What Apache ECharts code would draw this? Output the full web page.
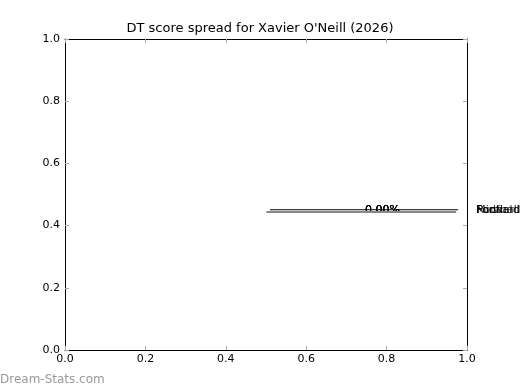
<!DOCTYPE html>
<html><head><meta charset="utf-8">
<script src="https://cdn.jsdelivr.net/npm/echarts@6/dist/echarts.min.js"></script>
<style>html,body{margin:0;padding:0;background:#fff}#c{width:520px;height:390px}</style>
</head><body><div id="c"></div>
<script>
const titleText = "DT score spread for Xavier O'Neill (2026)";
const xTicks = [0, 0.2, 0.4, 0.6, 0.8, 1.0];
const yTicks = [0, 0.2, 0.4, 0.6, 0.8, 1.0];
const blackLine = [[0.51, 0.451], [0.978, 0.451]];
const greyLine = [[0.501, 0.444], [0.973, 0.444]];
const pctLabels = ["0.00%", "0.00%", "0.00%", "0.00%"];
const pctPos = [0.79, 0.45];
const catLabels = ["Ruck", "Midfield", "Forward", "Football"];
const catPos = [1.022, 0.45];

const chart = echarts.init(document.getElementById('c'));
const font = 'DejaVu Sans';
const axisCommon = {
  type: 'value', min: 0, max: 1, interval: 0.2,
  axisLine: {show: true, onZero: false, lineStyle: {color: '#000', width: 1}},
  axisTick: {show: true, inside: true, length: 4, lineStyle: {color: '#aaa'}},
  splitLine: {show: false}
};
chart.setOption({
  animation: false,
  title: {text: titleText, left: 'center', top: 17,
    textStyle: {fontFamily: font, fontSize: 13, fontWeight: 'normal', color: '#000'}},
  graphic: [{type: 'text', left: 0, top: 374,
    style: {text: 'Dream-Stats.com', fontFamily: font, fontSize: 12, fontWeight: 'normal', fill: '#999'}}],
  grid: {left: 65, right: 53, top: 39, bottom: 40},
  xAxis: [
    Object.assign({}, axisCommon, {position: 'bottom',
      axisLabel: {fontFamily: font, fontSize: 11, color: '#000', margin: 4,
        formatter: v => v.toFixed(1)}}),
    Object.assign({}, axisCommon, {position: 'top', axisLabel: {show: false}})
  ],
  yAxis: [
    Object.assign({}, axisCommon, {position: 'left',
      axisLabel: {fontFamily: font, fontSize: 11, color: '#000', margin: 5,
        formatter: v => v.toFixed(1)}}),
    Object.assign({}, axisCommon, {position: 'right', axisLabel: {show: false}})
  ],
  series: [
    {type: 'line', data: greyLine, symbol: 'none', silent: true, clip: false,
      lineStyle: {color: '#888', width: 2}},
    {type: 'line', data: blackLine, symbol: 'none', silent: true, clip: false,
      lineStyle: {color: '#000', width: 1}},
    {type: 'scatter', symbolSize: 1, silent: true, clip: false,
      itemStyle: {color: 'rgba(0,0,0,0)'},
      data: pctLabels.map(t => ({value: pctPos, name: t})),
      label: {show: true, position: 'inside', formatter: p => p.name,
        fontFamily: font, fontSize: 11, color: '#000'}},
    {type: 'scatter', symbolSize: 1, silent: true, clip: false,
      itemStyle: {color: 'rgba(0,0,0,0)'},
      data: catLabels.map(t => ({value: catPos, name: t})),
      label: {show: true, position: 'right', distance: 0, formatter: p => p.name,
        fontFamily: font, fontSize: 11, color: '#000'}}
  ]
});
</script></body></html>
